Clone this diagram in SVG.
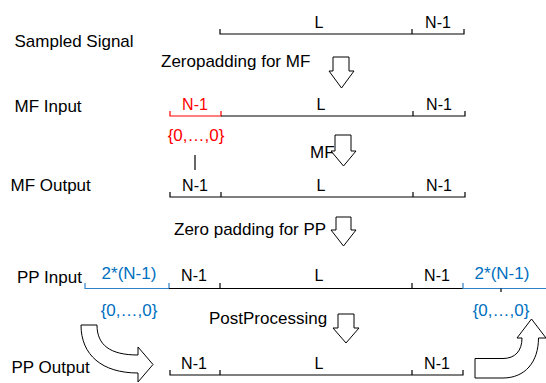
<svg xmlns="http://www.w3.org/2000/svg" width="546" height="383" viewBox="0 0 546 383">
<style>
text{font-family:"Liberation Sans",Arial,sans-serif;fill:#000}
.lbl{font-size:17px}
.seg{font-size:16px;text-anchor:middle}
.red{fill:#FF0000}
.blue{fill:#0070C0;font-size:17px;text-anchor:middle}
.ln{stroke:#000;stroke-width:1.2;fill:none}
.lnr{stroke:#FF0000;stroke-width:1.2;fill:none}
.lnb{stroke:#2E80C8;stroke-width:1.2;fill:none}
.arr{fill:#fff;stroke:#000;stroke-width:1}
</style>
<rect width="546" height="383" fill="#fff"/>

<g id="row-sampled">
<text class="lbl" x="14.5" y="47">Sampled Signal</text>
<path class="ln" d="M220,29V34H464V29M412,34V29"/>
<text class="seg" x="319" y="28">L</text>
<text class="seg" x="438" y="28">N-1</text>
</g>

<g id="label-zeropad-mf"><text class="lbl" x="161" y="67">Zeropadding for MF</text></g>

<g id="row-mf-input">
<text class="lbl" x="14.5" y="112">MF Input</text>
<path class="lnr" d="M170,111V116H221V111"/>
<path class="ln" d="M221,116H465V111M413,116V111"/>
<text class="seg red" x="195" y="110">N-1</text>
<text class="seg" x="321" y="110">L</text>
<text class="seg" x="439" y="110">N-1</text>
<text class="seg red" x="196" y="141" style="font-size:17px">{0,…,0}</text>
</g>

<g id="label-mf"><text class="lbl" x="310" y="158">MF</text></g>

<g id="row-mf-output">
<text class="lbl" x="10.5" y="191">MF Output</text>
<path class="ln" d="M170,192V197H465V192M221,197V192M413,197V192"/>
<text class="seg" x="195" y="191">N-1</text>
<text class="seg" x="321" y="191">L</text>
<text class="seg" x="439" y="191">N-1</text>
</g>

<g id="label-zeropad-pp"><text class="lbl" x="174" y="235">Zero padding for PP</text></g>

<g id="row-pp-input">
<text class="lbl" x="17" y="283">PP Input</text>
<path class="lnb" d="M85,283V288.5H169V283"/>
<path class="ln" d="M169,288.5H463M220,288.5V283M412,288.5V283"/>
<path class="lnb" d="M463,283V288.5H546"/>
<path class="ln" d="M501,288.5V292"/>
<text class="blue" x="129" y="279">2*(N-1)</text>
<text class="seg" x="194" y="281">N-1</text>
<text class="seg" x="319" y="281">L</text>
<text class="seg" x="437" y="281">N-1</text>
<text class="blue" x="502" y="279">2*(N-1)</text>
<text class="blue" x="129" y="316">{0,…,0}</text>
<text class="blue" x="501" y="316">{0,…,0}</text>
</g>

<g id="label-postprocessing"><text class="lbl" x="209" y="324">PostProcessing</text></g>

<g id="row-pp-output">
<text class="lbl" x="11.5" y="373">PP Output</text>
<path class="ln" d="M170,370V375H463V370M220,375V370M412,375V370"/>
<text class="seg" x="194" y="369">N-1</text>
<text class="seg" x="319" y="369">L</text>
<text class="seg" x="437" y="369">N-1</text>
</g>

<g id="connectors">
<path class="ln" d="M195,155V170"/>
<path class="arr" d="M333,57H349V71H354L341.5,88L329,71H333Z"/>
<path class="arr" d="M335,135H351V151H356L343.5,166L331,151H335Z"/>
<path class="arr" d="M336,217H351V230H356L343.5,246L331,230H336Z"/>
<path class="arr" d="M338,314H354V328H359L346,343L333,328H338Z"/>
<path class="arr" d="M81,325H97C97,345 110,355 138,355V347L153,364.5L138,382V373C102,373 81,355 81,325Z"/>
<path class="arr" d="M475,358.5H503C515,358.5 522,351 522,338H517L531.5,319L546,338H538.5C538.5,362 525,378 503,378H475Z"/>
</g>
</svg>
